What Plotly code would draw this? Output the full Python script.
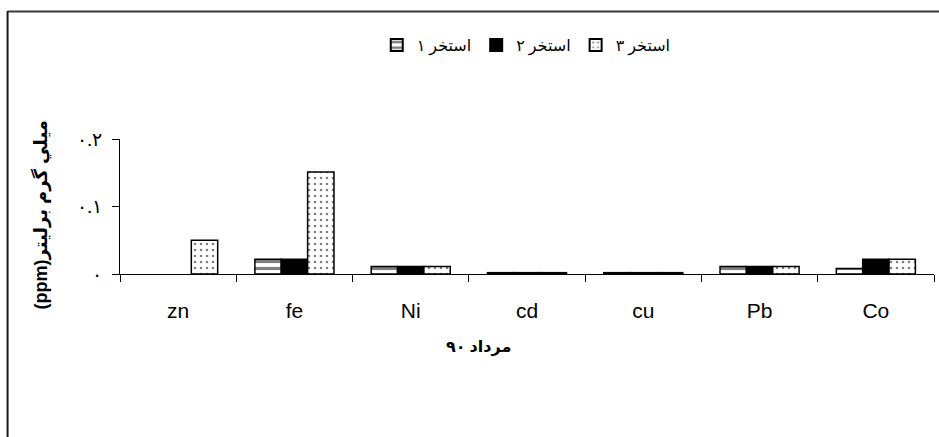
import plotly.graph_objects as go

# Elements measured (mg/L) for Mordad 1390, three ponds
elements = ["zn", "fe", "Ni", "cd", "cu", "Pb", "Co"]
pond1 = [None, 0.022, 0.011, 0.002, 0.002, 0.011, 0.008]
pond2 = [None, 0.022, 0.011, 0.002, 0.002, 0.011, 0.022]
pond3 = [0.05, 0.151, 0.011, 0.002, 0.002, 0.011, 0.022]
series_names = ["استخر ۱", "استخر ۲", "استخر ۳"]
y_tick_vals = [0, 0.1, 0.2]
y_tick_text = ["۰", "۰.۱", "۰.۲"]

W, H = 939, 437
ML, MR, MT, MB = 119.5, 5, 139, 163
PW, PH = W - ML - MR, H - MT - MB


def px_x(x):
    return (x - ML) / PW


def px_y(y):
    return (H - MB - y) / PH


line = dict(color="black", width=1.5)
fig = go.Figure()
fig.add_trace(go.Bar(
    x=elements, y=pond1, name=series_names[0],
    marker=dict(color="white", line=line,
                pattern=dict(shape="-", fgcolor="black", bgcolor="white",
                             size=7, solidity=0.45)),
))
fig.add_trace(go.Bar(
    x=elements, y=pond2, name=series_names[1],
    marker=dict(color="black", line=line),
))
fig.add_trace(go.Bar(
    x=elements, y=pond3, name=series_names[2],
    marker=dict(color="white", line=line,
                pattern=dict(shape=".", fgcolor="black", bgcolor="white",
                             size=6, solidity=0.15)),
))

arabic_font = "Times New Roman, Liberation Serif, DejaVu Sans"

fig.update_layout(
    width=W, height=H,
    margin=dict(l=ML, r=MR, t=MT, b=MB, pad=0),
    paper_bgcolor="white", plot_bgcolor="white",
    barmode="group", bargap=0.32, bargroupgap=0,
    showlegend=True,
    legend=dict(orientation="h", x=px_x(526), y=px_y(45),
                xanchor="center", yanchor="middle",
                font=dict(family=arabic_font, size=16, color="black"),
                bgcolor="rgba(0,0,0,0)", itemsizing="constant"),
    xaxis=dict(showline=True, linecolor="black", linewidth=1,
               ticks="outside", ticklen=7, tickcolor="black",
               tickson="boundaries", showgrid=False,
               tickfont=dict(family="Arial, Liberation Sans", size=21,
                             color="black"),
               ticklabelstandoff=18),
    yaxis=dict(range=[0, 0.2], showline=True, linecolor="black",
               linewidth=1, ticks="outside", ticklen=7,
               tickcolor="black", showgrid=False, zeroline=False,
               tickvals=y_tick_vals, ticktext=y_tick_text,
               tickfont=dict(family=arabic_font, size=19, color="black"),
               ticklabelstandoff=6),
    font=dict(family=arabic_font, color="black"),
)

# Axis titles
fig.add_annotation(text="<b>مرداد ۹۰</b>", xref="paper", yref="paper",
                   x=px_x(478), y=px_y(347), showarrow=False,
                   xanchor="center", yanchor="middle",
                   font=dict(family=arabic_font, size=16, color="black"))
fig.add_annotation(text="<b>(ppm)ميلي گرم برليتر</b>", xref="paper",
                   yref="paper", x=px_x(40), y=px_y(215), textangle=-90,
                   showarrow=False, xanchor="center", yanchor="middle",
                   font=dict(family="Arial, Liberation Sans, DejaVu Sans",
                             size=18, color="black"))

# Chart frame
fig.add_shape(type="line", xref="paper", yref="paper",
              x0=px_x(7), x1=px_x(939), y0=px_y(11.5), y1=px_y(11.5),
              line=dict(color="#3a3a3a", width=2))
fig.add_shape(type="line", xref="paper", yref="paper",
              x0=px_x(7), x1=px_x(7), y0=px_y(11), y1=px_y(437),
              line=dict(color="#1a1a1a", width=2))

fig.write_html("out.html")
